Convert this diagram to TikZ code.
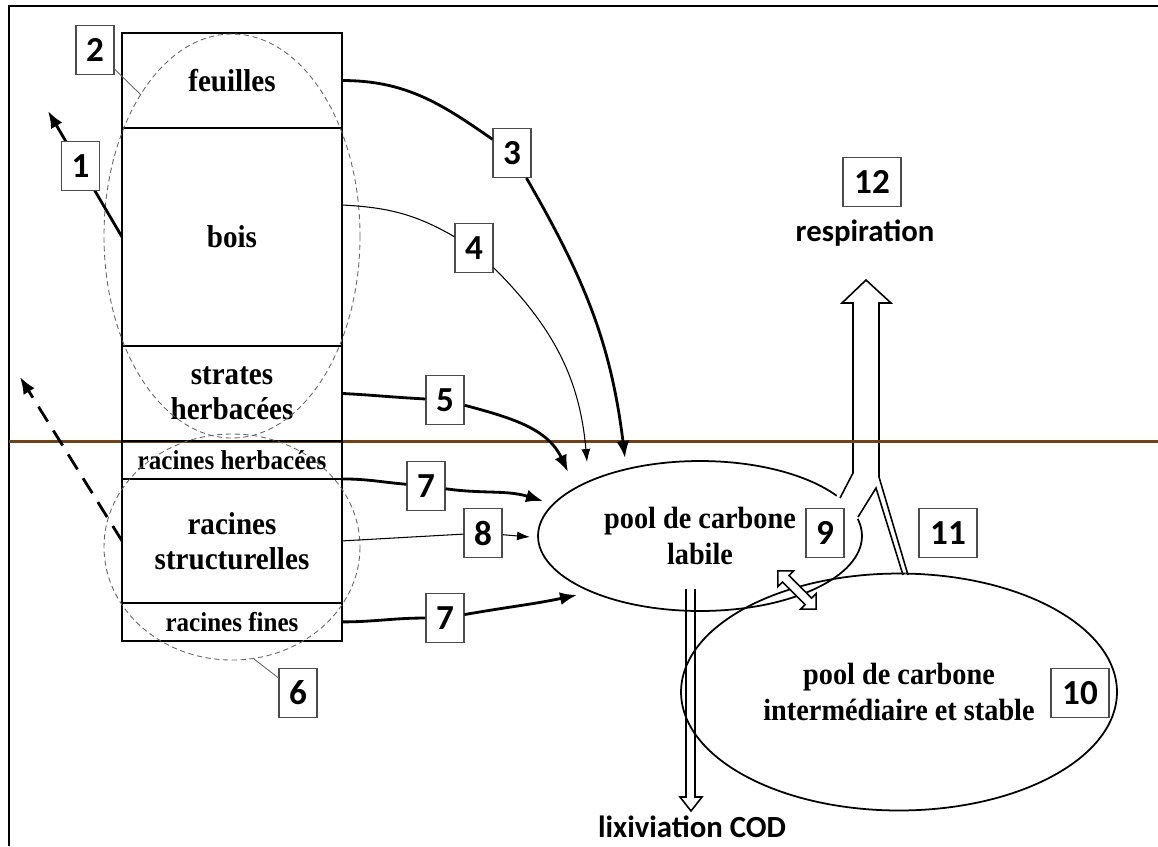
\documentclass[tikz,border=0pt]{standalone}
\usepackage{fontspec}
\setmainfont{Liberation Serif}[FakeStretch=0.92]
\newfontfamily\calfont{Carlito}
\usepackage{tikz}
\usetikzlibrary{shapes,arrows,positioning,calc,arrows.meta}
\definecolor{sol}{RGB}{112,66,22}

\tikzset{
  compart/.style={draw, line width=1.1pt, minimum width=4.4cm, outer sep=0pt, inner sep=1pt, align=center, font=\bfseries\fontsize{18}{20}\selectfont},
  smallcompart/.style={compart, font=\bfseries\fontsize{15.5}{16}\selectfont},
  numbox/.style={draw=black!70, line width=0.6pt, fill=white, minimum width=0.76cm, minimum height=0.98cm, inner sep=0pt, font=\calfont\bfseries\fontsize{20}{22}\selectfont},
  widebox/.style={numbox, minimum width=1.16cm},
  pool/.style={draw, ellipse, line width=1pt, align=center, inner sep=0pt, font=\bfseries\fontsize{17.5}{20.5}\selectfont},
  zone/.style={draw=black!60, dash pattern=on 3pt off 2pt, line width=0.5pt},
  labelline/.style={draw=black!60, line width=0.5pt},
  flux/.style={line width=1.6pt, -{Latex[length=3.4mm,width=2.6mm]}},
  thinflux/.style={line width=0.6pt, -{Latex[length=2.6mm,width=1.8mm]}},
  hollow/.style={line width=0.9pt, line join=miter},
  sortie/.style={font=\calfont\bfseries\fontsize{17.5}{20}\selectfont}
}

\begin{document}
\begin{tikzpicture}[x=0.02cm, y=-0.02cm]
    \useasboundingbox (0,0) rectangle (1158,846);
    \draw[line width=0.8pt] (9,846) -- (9,6) -- (1158,6);

    \node[pool, minimum width=6.48cm, minimum height=3cm] (labile) at (700,536) {pool de carbone\\labile};
    \node[pool, minimum width=8.72cm, minimum height=4.74cm] (stable) at (899,692) {pool de carbone\\intermédiaire et stable};

    \fill[white] (836,497) -- (853,472) -- (853,303) -- (879,303) -- (879,477) -- (906,575) -- (876,488) -- (859,518) -- (853,521) -- cycle;
    \draw[hollow] (840,498) -- (853,473) -- (853,303) -- (842,303) -- (866,280) -- (891,303) -- (879,303) -- (879,477) -- (908,575);
    \draw[hollow] (858,517) -- (876,488) -- (903,575);
    \node[sortie] (resp) at (865,233) {respiration};

    \draw[hollow] (686,589) -- (686,797) -- (680,797) -- (691,811) -- (702,797) -- (695,797) -- (695,589);
    \node[sortie] (lix) at (692,827) {lixiviation COD};

    \filldraw[hollow, fill=white] (816.1,609.1) -- (816.1,593.5) -- (811.5,598.1) -- (788.9,575.5) -- (793.5,570.9) -- (777.9,570.9)
        -- (777.9,586.5) -- (782.5,581.9) -- (805.1,604.5) -- (800.5,609.1) -- cycle;

    \draw[sol, line width=1.7pt] (9,441) -- (1158,441);

    \node[compart, minimum height=1.9cm] (feuilles) at (232,80.5) {feuilles};
    \node[compart, minimum height=4.36cm, below=0pt of feuilles] (bois) {bois};
    \node[compart, minimum height=1.9cm, below=0pt of bois] (strates) {strates\\herbacées};
    \node[smallcompart, minimum height=0.76cm, below=0pt of strates] (rh) {racines herbacées};
    \node[compart, minimum height=2.48cm, below=0pt of rh] (rs) {racines\\structurelles};
    \node[smallcompart, minimum height=0.76cm, below=0pt of rs] (rf) {racines fines};

    \draw[zone] (232,236) ellipse [x radius=128, y radius=202];
    \draw[zone] (232,547) ellipse [x radius=128, y radius=113];

    \node[numbox] (n2) at (95,50) {2};
    \node[numbox] (n3) at (512,153) {3};
    \node[numbox] (n4) at (474,248) {4};
    \node[numbox] (n5) at (445,400) {5};
    \node[numbox] (n6) at (298,693) {6};
    \node[numbox] (n7a) at (426,486) {7};
    \node[numbox] (n8) at (483,533) {8};
    \node[numbox] (n7b) at (445,618) {7};
    \node[numbox] (n9) at (825,533) {9};
    \node[widebox] (n10) at (1080,693) {10};
    \node[widebox] (n11) at (948,533) {11};
    \node[widebox] (n12) at (872,182) {12};

    \coordinate (e2) at (141,95);
    \coordinate (e6) at (254,659);
    \coordinate (c1) at (48,111);
    \coordinate (c0) at (20,377);
    \coordinate (t3) at (625,458);
    \coordinate (t4) at (587,462);
    \coordinate (t5) at (568,472);
    \coordinate (t7a) at (543,501);
    \coordinate (t8) at (530,537);
    \coordinate (t7b) at (577,595);

    \draw[labelline] (n2) -- (e2);
    \draw[labelline] (n6) -- (e6);

    \draw[flux] (bois.west) -- (c1) node[numbox, pos=0.56] (n1) {1};
    \draw[flux, dash pattern=on 10pt off 6pt] (rs.west) -- (c0);

    \draw[flux] (feuilles.east) to[out=0,in=145] (n3) to[out=-60,in=97] (t3);
    \draw[thinflux] ([yshift=0.64cm]bois.east) to[out=-3,in=150] (n4) to[out=-45,in=95] (t4);
    \draw[flux] (strates.east) to[out=-3,in=177] (n5) to[out=-15,in=115] (t5);
    \draw[flux] (rh.south east) to[out=0,in=175] (n7a) to[out=-8,in=163] (t7a);
    \draw[thinflux] (rs.east) -- (n8) -- (t8);
    \draw[flux] (rf.east) to[out=0,in=180] (n7b) to[out=10,in=192] (t7b);
\end{tikzpicture}
\end{document}
